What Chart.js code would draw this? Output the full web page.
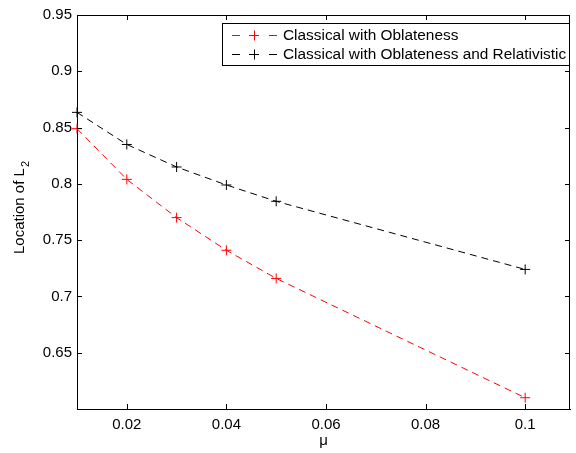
<!DOCTYPE html>
<html>
<head>
<meta charset="utf-8">
<script src="https://cdn.jsdelivr.net/npm/chart.js@4/dist/chart.umd.min.js"></script>
<style>
  html, body { margin: 0; padding: 0; background: #fff; }
  #wrap { width: 576px; height: 453px; }
</style>
</head>
<body>
<div id="wrap"><canvas id="c" width="576" height="453"></canvas></div>
<script>
// values
var MU = [0.01, 0.02, 0.03, 0.04, 0.05, 0.1];
var L2_CLASSICAL = [0.849, 0.804, 0.770, 0.741, 0.716, 0.610];
var L2_RELATIVISTIC = [0.8635, 0.835, 0.815, 0.799, 0.7845, 0.724];
var X_TICKS = [0.02, 0.04, 0.06, 0.08, 0.1];
var Y_TICKS = [0.65, 0.7, 0.75, 0.8, 0.85, 0.9, 0.95];
var SERIES_NAMES = ["Classical with Oblateness", "Classical with Oblateness and Relativistic"];
var SERIES_COLORS = ["#ff0000", "#000000"];

var FONT = "'Liberation Sans', Arial, Helvetica, sans-serif";
var DASH = [7, 5];

function toPoints(xs, ys)
{
        var out = [];
        for (var i = 0; i < xs.length; i++)
                out.push({ x: xs[i], y: ys[i] });
        return out;
}

function makeSet(idx, ys)
{
        return {
                label: SERIES_NAMES[idx],
                data: toPoints(MU, ys),
                showLine: true,
                borderColor: SERIES_COLORS[idx],
                backgroundColor: SERIES_COLORS[idx],
                borderWidth: 1,
                borderDash: DASH,
                pointStyle: "cross",
                pointRadius: 5,
                pointBorderWidth: 1,
                pointBorderColor: SERIES_COLORS[idx],
                tension: 0,
                clip: false
        };
}

// box, inner ticks, axis titles and the legend, drawn matlab style
var matlabFrame = {
        id: "matlabFrame",
        afterDraw: function(chart)
        {
                var ctx = chart.ctx;
                var a = chart.chartArea;
                var xs = chart.scales.x, ys = chart.scales.y;
                var tl = 5;
                ctx.save();
                ctx.strokeStyle = "#000";
                ctx.lineWidth = 1;
                ctx.beginPath();
                ctx.moveTo(a.left, a.top + 0.5);
                ctx.lineTo(a.right, a.top + 0.5);
                ctx.moveTo(a.right - 0.5, a.top);
                ctx.lineTo(a.right - 0.5, a.bottom);
                X_TICKS.forEach(function(v) {
                        var px = Math.round(xs.getPixelForValue(v)) + 0.5;
                        ctx.moveTo(px, a.bottom);
                        ctx.lineTo(px, a.bottom - tl);
                        ctx.moveTo(px, a.top);
                        ctx.lineTo(px, a.top + tl);
                });
                Y_TICKS.forEach(function(v) {
                        var py = Math.round(ys.getPixelForValue(v)) + 0.5;
                        ctx.moveTo(a.left, py);
                        ctx.lineTo(a.left + tl, py);
                        ctx.moveTo(a.right, py);
                        ctx.lineTo(a.right - tl, py);
                });
                ctx.stroke();

                // axis titles
                ctx.fillStyle = "#000";
                ctx.font = "15px " + FONT;
                ctx.textAlign = "center";
                ctx.textBaseline = "middle";
                ctx.fillText("\u03bc", (a.left + a.right) / 2, 441);

                ctx.save();
                ctx.translate(20, 208);
                ctx.rotate(-Math.PI / 2);
                var main = "Location of L";
                var wMain = ctx.measureText(main).width;
                ctx.font = "11px " + FONT;
                var wSub = ctx.measureText("2").width;
                var x0 = -(wMain + wSub) / 2;
                ctx.textAlign = "left";
                ctx.font = "15px " + FONT;
                ctx.fillText(main, x0, 0);
                ctx.font = "11px " + FONT;
                ctx.fillText("2", x0 + wMain + 1, 6);
                ctx.restore();

                // legend box
                var bx = 222.5, by = 23.5, bw = 347, bh = 42;
                ctx.fillStyle = "#fff";
                ctx.fillRect(bx, by, bw, bh);
                ctx.strokeRect(bx, by, bw, bh);
                ctx.font = "15.4px " + FONT;
                ctx.textBaseline = "middle";
                ctx.textAlign = "left";
                for (var i = 0; i < SERIES_NAMES.length; i++)
                {
                        var ly = 35 + i * 19 + 0.5;
                        ctx.strokeStyle = SERIES_COLORS[i];
                        ctx.beginPath();
                        ctx.moveTo(232, ly); ctx.lineTo(240, ly);
                        ctx.moveTo(269, ly); ctx.lineTo(277, ly);
                        ctx.moveTo(249, ly); ctx.lineTo(259, ly);
                        ctx.moveTo(254.5, ly - 5); ctx.lineTo(254.5, ly + 5);
                        ctx.stroke();
                        ctx.fillStyle = "#000";
                        ctx.fillText(SERIES_NAMES[i], 283, ly);
                }
                ctx.restore();
        }
};

function fmt(v)
{
        return String(+v.toFixed(2));
}

new Chart(document.getElementById("c"), {
        type: "scatter",
        data: {
                datasets: [makeSet(0, L2_CLASSICAL), makeSet(1, L2_RELATIVISTIC)]
        },
        options: {
                responsive: false,
                animation: false,
                layout: { padding: { left: 0, top: 15, right: 4, bottom: 0 } },
                plugins: {
                        legend: { display: false },
                        tooltip: { enabled: false }
                },
                scales: {
                        x: {
                                type: "linear",
                                min: 0.01,
                                max: 0.109,
                                afterBuildTicks: function(s) { s.ticks = X_TICKS.map(function(v) { return { value: v }; }); },
                                afterFit: function(s) { s.height = 44; },
                                grid: { display: false, tickLength: 0 },
                                border: { display: true, color: "#000", width: 1 },
                                ticks: { color: "#000", padding: 7, maxRotation: 0, font: { family: FONT, size: 15 }, callback: fmt }
                        },
                        y: {
                                type: "linear",
                                min: 0.6,
                                max: 0.95,
                                afterBuildTicks: function(s) { s.ticks = Y_TICKS.map(function(v) { return { value: v }; }); },
                                afterFit: function(s) { s.width = 77; },
                                grid: { display: false, tickLength: 0 },
                                border: { display: true, color: "#000", width: 1 },
                                ticks: { color: "#000", padding: 5, font: { family: FONT, size: 15 }, callback: fmt }
                        }
                }
        },
        plugins: [matlabFrame]
});
</script>
</body>
</html>
